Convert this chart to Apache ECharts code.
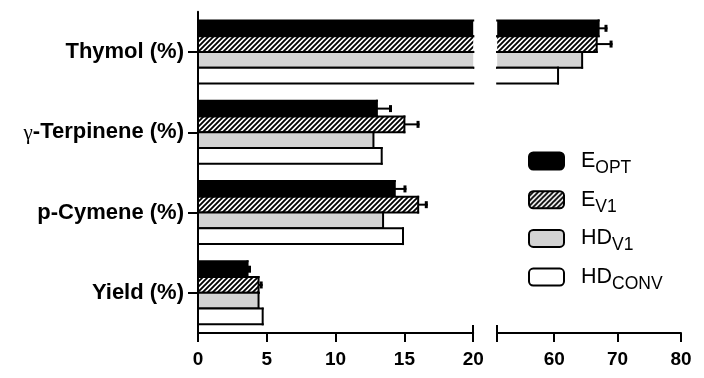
<!DOCTYPE html>
<html><head><meta charset="utf-8">
<script src="https://cdn.jsdelivr.net/npm/echarts@6/dist/echarts.min.js"></script>
<style>html,body{margin:0;padding:0;background:#fff}#c{width:704px;height:378px}</style>
</head><body><div id="c"></div>
<script>
// ---- data ----
const categories = ['Thymol (%)', 'γ-Terpinene (%)', 'p-Cymene (%)', 'Yield (%)'];
const seriesNames = ['E_OPT', 'E_V1', 'HD_V1', 'HD_CONV'];
const eOpt    = [67.0, 13.0, 14.3, 3.6];
const eOptErr = [1.4, 1.1, 0.85, 0.25];
const eV1     = [66.7, 15.0, 16.0, 4.4];
const eV1Err  = [2.5, 1.1, 0.7, 0.3];
const hdV1    = [64.4, 12.75, 13.45, 4.4];
const hdConv  = [60.6, 13.35, 14.9, 4.7];
const lowTicks = [0, 5, 10, 15, 20];
const highTicks = [60, 70, 80];
const lowRange = [0, 20];
const highRange = [51, 80];

// ---- styling helpers ----
function hatchCanvas() {
  const s = 5, c = document.createElement('canvas');
  c.width = s; c.height = s;
  const x = c.getContext('2d');
  x.fillStyle = '#fff'; x.fillRect(0, 0, s, s);
  x.strokeStyle = '#000'; x.lineWidth = 1.9; x.beginPath();
  x.moveTo(0, s); x.lineTo(s, 0);
  x.moveTo(-1, 1); x.lineTo(1, -1);
  x.moveTo(s - 1, s + 1); x.lineTo(s + 1, s - 1);
  x.stroke();
  return c;
}
const fills = ['#000000', { image: hatchCanvas(), repeat: 'repeat' }, '#d3d3d3', '#ffffff'];
const values = [eOpt, eV1, hdV1, hdConv];
const errors = [eOptErr, eV1Err, null, null];
const BAR_FRAC = 0.785;
const FONT = 'Liberation Sans, Arial, sans-serif';

function makeRender(si, fill) {
  return function (params, api) {
    const v = api.value(0), cat = api.value(1), err = api.value(2);
    const cs = params.coordSys;
    const band = api.size([0, 1])[1];
    const w = band * BAR_FRAC / 4;
    const pv = api.coord([v, cat]);
    const x0 = api.coord([0, cat])[0];
    const rightLim = cs.x + cs.width;
    if (pv[0] <= cs.x) return null;
    const left = Math.max(x0, cs.x);
    const right = Math.min(pv[0], rightLim);
    const openL = x0 < cs.x - 0.5, openR = pv[0] > rightLim + 0.5;
    const y0 = pv[1] - 2 * w + si * w;
    const ls = { stroke: '#000', lineWidth: 2, lineCap: 'square' };
    const ch = [
      { type: 'rect', shape: { x: left, y: y0, width: right - left, height: w }, style: { fill: fill } },
      { type: 'line', shape: { x1: left, y1: y0, x2: right, y2: y0 }, style: ls },
      { type: 'line', shape: { x1: left, y1: y0 + w, x2: right, y2: y0 + w }, style: ls }
    ];
    if (!openL) ch.push({ type: 'line', shape: { x1: left, y1: y0, x2: left, y2: y0 + w }, style: ls });
    if (!openR) ch.push({ type: 'line', shape: { x1: right, y1: y0, x2: right, y2: y0 + w }, style: ls });
    if (err && !openR) {
      const xe = api.coord([v + err, cat])[0];
      const ym = y0 + w / 2;
      ch.push({ type: 'line', shape: { x1: right, y1: ym, x2: xe, y2: ym }, style: { stroke: '#000', lineWidth: 2 } });
      ch.push({ type: 'line', shape: { x1: xe - 1.5, y1: ym - 3.5, x2: xe - 1.5, y2: ym + 3.5 }, style: { stroke: '#000', lineWidth: 3 } });
    }
    return { type: 'group', children: ch };
  };
}

const series = [];
[0, 1].forEach(function (g) {
  values.forEach(function (vals, si) {
    const errs = errors[si];
    series.push({
      type: 'custom',
      name: seriesNames[si],
      xAxisIndex: g,
      yAxisIndex: g,
      encode: { x: 0, y: 1 },
      itemStyle: { color: fills[si], borderColor: '#000', borderWidth: 2 },
      renderItem: makeRender(si, fills[si]),
      data: vals.map(function (v, i) { return [v, i, errs ? errs[i] : 0]; })
    });
  });
});

const axisLineStyle = { color: '#000', width: 2 };
const xLabel = { color: '#000', fontSize: 19, fontWeight: 'bold', fontFamily: FONT, margin: 17 };

const option = {
  animation: false,
  backgroundColor: '#fff',
  textStyle: { fontFamily: FONT },
  grid: [
    { left: 198, top: 11.8, width: 275.2, height: 321.2, outerBoundsMode: 'none' },
    { left: 497.2, top: 11.8, width: 183.8, height: 321.2, outerBoundsMode: 'none' }
  ],
  xAxis: [
    { gridIndex: 0, type: 'value', min: lowRange[0], max: lowRange[1], position: 'bottom', offset: 0,
      axisLine: { show: true, onZero: false, lineStyle: axisLineStyle },
      axisTick: { show: true, length: 9, lineStyle: axisLineStyle, customValues: lowTicks },
      axisLabel: Object.assign({ customValues: lowTicks }, xLabel),
      splitLine: { show: false } },
    { gridIndex: 1, type: 'value', min: highRange[0], max: highRange[1], position: 'bottom', offset: 0,
      axisLine: { show: true, onZero: false, lineStyle: axisLineStyle },
      axisTick: { show: true, length: 9, lineStyle: axisLineStyle, customValues: [highRange[0]].concat(highTicks) },
      axisLabel: Object.assign({ customValues: highTicks }, xLabel),
      splitLine: { show: false } },
    { gridIndex: 0, type: 'value', min: lowRange[0], max: lowRange[1], position: 'bottom', offset: 0,
      axisLine: { show: false },
      axisTick: { show: true, inside: true, length: 8, lineStyle: axisLineStyle, customValues: [lowRange[1]] },
      axisLabel: { show: false }, splitLine: { show: false } },
    { gridIndex: 1, type: 'value', min: highRange[0], max: highRange[1], position: 'bottom', offset: 0,
      axisLine: { show: false },
      axisTick: { show: true, inside: true, length: 8, lineStyle: axisLineStyle, customValues: [highRange[0]] },
      axisLabel: { show: false }, splitLine: { show: false } }
  ],
  yAxis: [
    { gridIndex: 0, type: 'category', data: categories, inverse: true,
      axisLine: { show: true, lineStyle: axisLineStyle },
      axisTick: { show: true, alignWithLabel: true, length: 10, lineStyle: axisLineStyle },
      axisLabel: {
        margin: 14,
        formatter: function (v) {
          if (v.charAt(0) === 'γ') return '{g|γ}{b|' + v.slice(1) + '}';
          return '{b|' + v + '}';
        },
        rich: {
          b: { fontSize: 22, fontWeight: 'bold', color: '#000', fontFamily: FONT },
          g: { fontSize: 21, fontWeight: 'normal', color: '#000', fontFamily: 'Liberation Serif, serif', padding: [3, 0, 0, 0] }
        }
      },
      splitLine: { show: false } },
    { gridIndex: 1, type: 'category', data: categories, inverse: true, show: false }
  ],
  legend: {
    orient: 'vertical', left: 528, top: 150, padding: 0, itemGap: 11.7,
    itemWidth: 35, itemHeight: 17, icon: 'roundRect', selectedMode: false,
    data: seriesNames,
    itemStyle: { borderColor: '#000', borderWidth: 2 },
    formatter: function (name) {
      const p = name.split('_');
      return '{m|' + p[0] + '}{s|' + p[1] + '}';
    },
    textStyle: {
      color: '#000',
      rich: {
        m: { fontSize: 21.5, color: '#000', fontFamily: FONT, padding: [0, 0, 0, 12] },
        s: { fontSize: 17.5, color: '#000', fontFamily: FONT, padding: [14, 0, 0, 0] }
      }
    }
  },
  series: series
};

const chart = echarts.init(document.getElementById('c'), null, { renderer: 'canvas' });
chart.setOption(option);
</script>
</body></html>
